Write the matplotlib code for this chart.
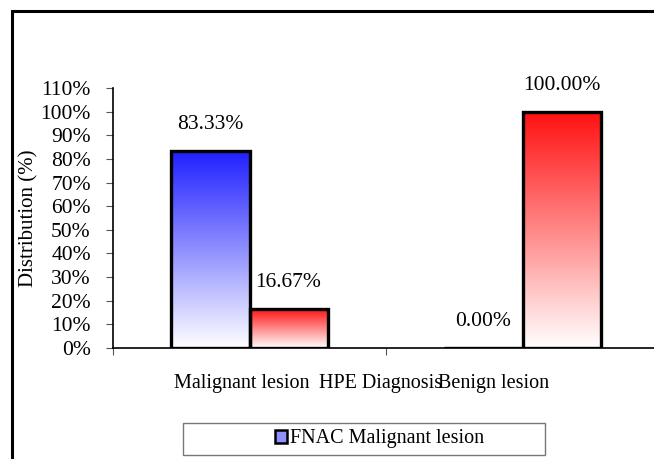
import matplotlib
matplotlib.use("Agg")
import matplotlib.pyplot as plt
import numpy as np
from matplotlib.patches import Rectangle
from matplotlib.colors import LinearSegmentedColormap
from matplotlib.ticker import PercentFormatter

plt.rcParams['font.family'] = ['Liberation Serif', 'DejaVu Serif']

categories = ['Malignant lesion', 'Benign lesion']
fnac_malignant = [83.33, 0.00]
fnac_benign = [16.67, 100.00]
series_names = ['FNAC Malignant lesion', 'FNAC Benign lesion']
top_colors = ['#2020ff', '#ff1010']

W, H = 654, 459
fig = plt.figure(figsize=(W / 100, H / 100), dpi=100)

# outer frame (only top and left visible)
fig.patches.append(Rectangle((12 / W, -0.1), 1.2, 1 - 11 / H + 0.1,
                             transform=fig.transFigure, fill=False,
                             edgecolor='black', linewidth=2.2))

ax = fig.add_axes([113 / W, 1 - 348 / H, (659 - 113) / W, (348 - 88) / H])
x = np.arange(len(categories))
width = 0.286

for k, (vals, col) in enumerate(zip([fnac_malignant, fnac_benign], top_colors)):
    cmap = LinearSegmentedColormap.from_list('g%d' % k, ['white', col])
    offs = -width / 2 if k == 0 else width / 2
    bars = ax.bar(x + offs, vals, width, facecolor='none', edgecolor='black',
                  linewidth=2.4, zorder=3, label=series_names[k])
    for b, v in zip(bars, vals):
        if v <= 0:
            continue
        grad = np.linspace(0, 1, 256).reshape(-1, 1)
        im = ax.imshow(grad, cmap=cmap, origin='lower', aspect='auto',
                       extent=[b.get_x(), b.get_x() + b.get_width(), 0, v],
                       zorder=2)
        im.set_clip_path(b)
    for xi, v in zip(x + offs, vals):
        ax.annotate('%.2f%%' % v, (xi, v), xytext=(0, 19), textcoords='offset points',
                    ha='center', va='center', fontsize=15.5)

ax.set_xlim(-0.5, 1.5)
ax.set_ylim(0, 110)
ax.set_yticks(np.arange(0, 111, 10))
ax.yaxis.set_major_formatter(PercentFormatter(decimals=0))
ax.set_xticks([-0.5, 0.5, 1.5])
ax.set_xticklabels([])
ax.tick_params(axis='y', labelsize=15.5, length=5, pad=11, color='#555555')
ax.tick_params(axis='x', length=5, color='#555555')
for s in ['top', 'right']:
    ax.spines[s].set_visible(False)
for s in ['left', 'bottom']:
    ax.spines[s].set_linewidth(1.2)

# category labels and axis title share one line under the axis
ly = -0.135
trans = ax.get_xaxis_transform()
ax.text(-0.03, ly, categories[0], transform=trans, ha='center', va='center', fontsize=14.5)
ax.text(0.48, ly, 'HPE Diagnosis', transform=trans, ha='center', va='center', fontsize=14.5)
ax.text(0.895, ly, categories[1], transform=trans, ha='center', va='center', fontsize=14.5)
ax.set_ylabel('Distribution (%)', fontsize=15)
ax.yaxis.set_label_coords(-0.137, 0.5)

# legend box
fig.patches.append(Rectangle((183 / W, 1 - 455 / H), (545 - 183) / W, 32 / H,
                             transform=fig.transFigure, fill=False,
                             edgecolor='#777777', linewidth=1))
handle = Rectangle((0, 0), 1, 1, facecolor='#9090ff', edgecolor='black', linewidth=1.8)
fig.legend([handle], [series_names[0]], loc='center',
           bbox_to_anchor=(380 / W, 1 - 439 / H), frameon=False,
           fontsize=14.5, handlelength=0.6, handleheight=0.6, handletextpad=0.15)

fig.savefig('out.png', dpi=100)
